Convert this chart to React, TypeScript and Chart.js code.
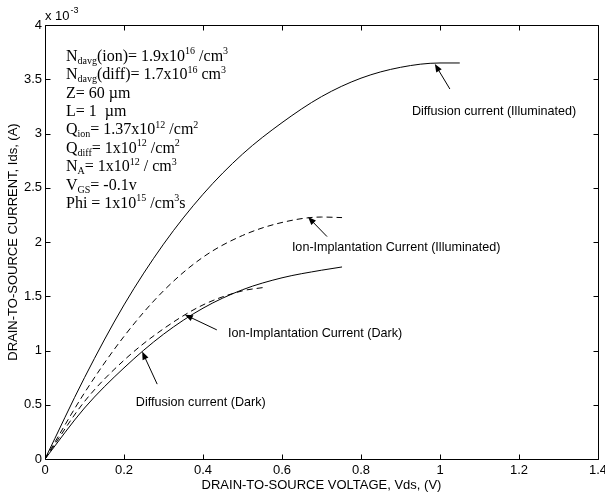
import React, { useEffect, useRef } from "react";
import { Chart, registerables } from "chart.js";
Chart.register(...registerables);

// Drain-to-source voltage (V) and current (x10^-3 A) for each curve
const diffIllumV = [0, 0.1, 0.2, 0.3, 0.4, 0.5, 0.6, 0.7, 0.8, 0.9, 1.0, 1.05];
const diffIllumI = [0, 0.75, 1.42, 1.98, 2.44, 2.81, 3.1, 3.34, 3.51, 3.61, 3.65, 3.65];

const ionIllumV = [0, 0.1, 0.2, 0.3, 0.4, 0.5, 0.6, 0.7, 0.752];
const ionIllumI = [0, 0.61, 1.13, 1.55, 1.86, 2.06, 2.18, 2.23, 2.225];

const diffDarkV = [0, 0.1, 0.2, 0.3, 0.4, 0.5, 0.6, 0.7, 0.752];
const diffDarkI = [0, 0.47, 0.84, 1.15, 1.39, 1.56, 1.67, 1.74, 1.77];

const ionDarkV = [0, 0.1, 0.2, 0.3, 0.4, 0.5, 0.552];
const ionDarkI = [0, 0.53, 0.91, 1.2, 1.42, 1.55, 1.58];

const xTickValues = [0, 0.2, 0.4, 0.6, 0.8, 1.0, 1.2, 1.4];
const yTickValues = [0, 0.5, 1, 1.5, 2, 2.5, 3, 3.5, 4];

const xTitle = "DRAIN-TO-SOURCE VOLTAGE, Vds, (V)";
const yTitle = "DRAIN-TO-SOURCE CURRENT, Ids, (A)";

// annotation labels: text, text anchor (data), arrow tail (data), arrow tip (data)
const annotationTexts = [
  "Diffusion current (Illuminated)",
  "Ion-Implantation Current (Illuminated)",
  "Ion-Implantation Current (Dark)",
  "Diffusion current (Dark)",
];
const annotationTextAt = [[0.929, 3.2], [0.625, 1.945], [0.463, 1.16], [0.23, 0.52]];
const annotationTail = [[1.025, 3.41], [0.714, 2.05], [0.435, 1.19], [0.284, 0.69]];
const annotationTip = [[0.987, 3.64], [0.666, 2.23], [0.354, 1.33], [0.246, 0.99]];

type Seg = { t: string; s?: "sub" | "sup" };
const paramLines: Seg[][] = [
  [{ t: "N" }, { t: "davg", s: "sub" }, { t: "(ion)= 1.9x10" }, { t: "16", s: "sup" }, { t: " /cm" }, { t: "3", s: "sup" }],
  [{ t: "N" }, { t: "davg", s: "sub" }, { t: "(diff)= 1.7x10" }, { t: "16", s: "sup" }, { t: " cm" }, { t: "3", s: "sup" }],
  [{ t: "Z= 60 \u00b5m" }],
  [{ t: "L= 1  \u00b5m" }],
  [{ t: "Q" }, { t: "ion", s: "sub" }, { t: "= 1.37x10" }, { t: "12", s: "sup" }, { t: " /cm" }, { t: "2", s: "sup" }],
  [{ t: "Q" }, { t: "diff", s: "sub" }, { t: "= 1x10" }, { t: "12", s: "sup" }, { t: " /cm" }, { t: "2", s: "sup" }],
  [{ t: "N" }, { t: "A", s: "sub" }, { t: "= 1x10" }, { t: "12", s: "sup" }, { t: " / cm" }, { t: "3", s: "sup" }],
  [{ t: "V" }, { t: "GS", s: "sub" }, { t: "= -0.1v" }],
  [{ t: "Phi = 1x10" }, { t: "15", s: "sup" }, { t: " /cm" }, { t: "3", s: "sup" }, { t: "s" }],
];

const SANS = "'Liberation Sans', Arial, sans-serif";
const SERIF = "'Liberation Serif', 'Times New Roman', serif";

function pts(xs: number[], ys: number[]) {
  return xs.map((x, i) => ({ x, y: ys[i] }));
}

function drawRich(ctx: CanvasRenderingContext2D, segs: Seg[], x: number, y: number) {
  let cx = x;
  for (const sg of segs) {
    if (sg.s) {
      ctx.font = `10px ${SERIF}`;
      const dy = sg.s === "sup" ? -6.5 : 3;
      ctx.fillText(sg.t, cx, y + dy);
      cx += ctx.measureText(sg.t).width;
    } else {
      ctx.font = `16px ${SERIF}`;
      ctx.fillText(sg.t, cx, y);
      cx += ctx.measureText(sg.t).width;
    }
  }
}

const overlay = {
  id: "overlay",
  afterDraw(chart: any) {
    const ctx: CanvasRenderingContext2D = chart.ctx;
    const { left, right, top, bottom } = chart.chartArea;
    const xs = chart.scales.x;
    const ys = chart.scales.y;
    ctx.save();
    ctx.strokeStyle = "#000";
    ctx.lineWidth = 1;
    const L = Math.round(left) + 0.5, R = Math.round(right) + 0.5;
    const T = Math.round(top) + 0.5, B = Math.round(bottom) + 0.5;
    ctx.beginPath();
    ctx.rect(L, T, R - L, B - T);
    ctx.stroke();
    const tl = 5;
    ctx.beginPath();
    for (const v of xTickValues) {
      const px = Math.round(xs.getPixelForValue(v)) + 0.5;
      ctx.moveTo(px, B);
      ctx.lineTo(px, B - tl);
      ctx.moveTo(px, T);
      ctx.lineTo(px, T + tl);
    }
    for (const v of yTickValues) {
      const py = Math.round(ys.getPixelForValue(v)) + 0.5;
      ctx.moveTo(L, py);
      ctx.lineTo(L + tl, py);
      ctx.moveTo(R, py);
      ctx.lineTo(R - tl, py);
    }
    ctx.stroke();

    ctx.fillStyle = "#000";
    ctx.textBaseline = "alphabetic";
    ctx.textAlign = "left";
    ctx.font = `13px ${SANS}`;
    ctx.fillText("x 10", left, 20);
    const w = ctx.measureText("x 10").width;
    ctx.font = `9px ${SANS}`;
    ctx.fillText("-3", left + w + 1, 13);

    paramLines.forEach((line, i) => {
      drawRich(ctx, line, 66, 60.7 + i * 18.4);
    });

    ctx.font = `12.6px ${SANS}`;
    ctx.textBaseline = "middle";
    annotationTexts.forEach((txt, i) => {
      const tx = xs.getPixelForValue(annotationTextAt[i][0]);
      const ty = ys.getPixelForValue(annotationTextAt[i][1]);
      ctx.fillText(txt, tx, ty);
      const ax = xs.getPixelForValue(annotationTail[i][0]);
      const ay = ys.getPixelForValue(annotationTail[i][1]);
      const bx = xs.getPixelForValue(annotationTip[i][0]);
      const by = ys.getPixelForValue(annotationTip[i][1]);
      const ang = Math.atan2(by - ay, bx - ax);
      const hl = 8, hw = 3.2;
      ctx.beginPath();
      ctx.moveTo(ax, ay);
      ctx.lineTo(bx - Math.cos(ang) * hl * 0.8, by - Math.sin(ang) * hl * 0.8);
      ctx.stroke();
      ctx.beginPath();
      ctx.moveTo(bx, by);
      ctx.lineTo(bx - Math.cos(ang) * hl - Math.sin(ang) * hw, by - Math.sin(ang) * hl + Math.cos(ang) * hw);
      ctx.lineTo(bx - Math.cos(ang) * hl + Math.sin(ang) * hw, by - Math.sin(ang) * hl - Math.cos(ang) * hw);
      ctx.closePath();
      ctx.fill();
    });
    ctx.restore();
  },
};

const fmt = (v: any) => String(Math.round(Number(v) * 10) / 10);

export default function App() {
  const ref = useRef<HTMLCanvasElement>(null);
  useEffect(() => {
    document.body.style.margin = "0";
    const lineBase = {
      borderColor: "#000",
      borderWidth: 1,
      pointRadius: 0,
      fill: false,
      cubicInterpolationMode: "monotone" as const,
    };
    const chart = new Chart(ref.current!, {
      type: "line",
      data: {
        datasets: [
          { ...lineBase, label: "Diffusion current (Illuminated)", data: pts(diffIllumV, diffIllumI) },
          { ...lineBase, label: "Ion-Implantation Current (Illuminated)", data: pts(ionIllumV, ionIllumI), borderDash: [6, 4] },
          { ...lineBase, label: "Diffusion current (Dark)", data: pts(diffDarkV, diffDarkI) },
          { ...lineBase, label: "Ion-Implantation Current (Dark)", data: pts(ionDarkV, ionDarkI), borderDash: [6, 4] },
        ],
      },
      options: {
        animation: false,
        responsive: false,
        devicePixelRatio: 1,
        layout: { padding: { top: 25, right: 7, left: 0, bottom: 0 } },
        plugins: { legend: { display: false }, tooltip: { enabled: false } },
        scales: {
          x: {
            type: "linear",
            min: 0,
            max: 1.4,
            afterBuildTicks: (s: any) => { s.ticks = xTickValues.map((v) => ({ value: v })); },
            ticks: { color: "#000", font: { family: SANS, size: 13 }, padding: 4, maxRotation: 0, autoSkip: false, callback: fmt },
            grid: { display: false, drawTicks: false },
            border: { display: false },
            title: { display: true, text: xTitle, color: "#000", font: { family: SANS, size: 13 }, padding: { top: 0, bottom: 3 } },
            afterFit: (s: any) => { s.height = 37; s.paddingLeft = 0; s.paddingRight = 0; },
          },
          y: {
            type: "linear",
            min: 0,
            max: 4,
            afterBuildTicks: (s: any) => { s.ticks = yTickValues.map((v) => ({ value: v })); },
            ticks: { color: "#000", font: { family: SANS, size: 13 }, padding: 3, autoSkip: false, callback: fmt },
            grid: { display: false, drawTicks: false },
            border: { display: false },
            title: { display: true, text: yTitle, color: "#000", font: { family: SANS, size: 13 }, padding: { top: 6, bottom: 0 } },
            afterFit: (s: any) => { s.width = 45; s.paddingTop = 0; s.paddingBottom = 0; },
          },
        },
      },
      plugins: [overlay],
    });
    return () => chart.destroy();
  }, []);
  return (
    <div style={{ width: 605, height: 496 }}>
      <canvas ref={ref} width={605} height={496} style={{ display: "block" }} />
    </div>
  );
}
